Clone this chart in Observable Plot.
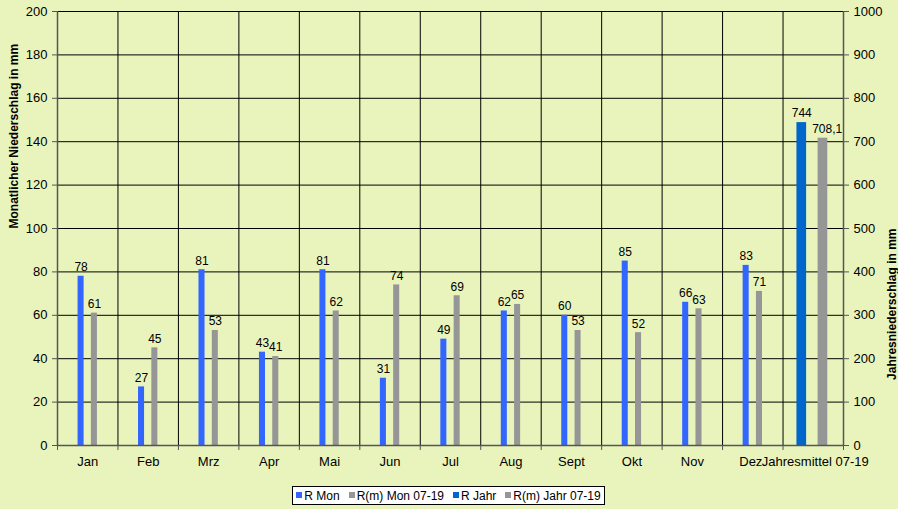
<!DOCTYPE html>
<html><head><meta charset="utf-8">
<script src="https://cdn.jsdelivr.net/npm/d3@7"></script>
<script src="https://cdn.jsdelivr.net/npm/@observablehq/plot@0.6"></script>
<style>
html,body{margin:0;padding:0;background:#E9F4BC;}
#chart{position:relative;width:898px;height:509px;overflow:hidden;font-family:"Liberation Sans",Arial,sans-serif;}
#legend{position:absolute;left:292px;top:486px;width:313px;height:19px;background:#fff;border:1px solid #000;box-sizing:border-box;display:flex;align-items:center;justify-content:center;gap:9px;font-size:12px;color:#000;}
#legend span.sw{display:inline-block;width:6px;height:6px;margin-right:2px;vertical-align:2px;}
</style></head>
<body><div id="chart"><div id="plot"></div><div id="legend"></div></div>
<script>
const months = ["Jan","Feb","Mrz","Apr","Mai","Jun","Jul","Aug","Sept","Okt","Nov","Dez"];
const annualLabel = "Jahresmittel 07-19";
const rMon = [78,27,81,43,81,31,49,62,60,85,66,83];
const rMeanMon = [61,45,53,41,62,74,69,65,53,52,63,71];
const rJahr = 744;
const rMeanJahr = 708.1;
const seriesNames = ["R Mon","R(m) Mon 07-19","R Jahr","R(m) Jahr 07-19"];
const colors = ["#3366FF","#969696","#0066CC","#969696"];

const cats = [...months, annualLabel];
const monthly = months.flatMap((m,i)=>[
  {i, s:0, v:rMon[i], label:String(rMon[i])},
  {i, s:1, v:rMeanMon[i], label:String(rMeanMon[i])}
]);
const annual = [
  {i:12, s:2, v:rJahr/5, label:String(rJahr)},
  {i:12, s:3, v:rMeanJahr/5, label:String(rMeanJahr).replace(".",",")}
];
const off = {0:[0.34,0.44],1:[0.56,0.66],2:[0.23,0.39],3:[0.58,0.74]};
const all = [...monthly, ...annual];

const plot = Plot.plot({
  width: 898, height: 478,
  marginLeft: 57, marginRight: 55, marginTop: 11, marginBottom: 33,
  style: {background:"transparent", fontFamily:"Liberation Sans, Arial, sans-serif", fontSize:"12px", color:"#000"},
  x: {domain:[0,13], axis:null},
  y: {domain:[0,200], axis:null},
  marks: [
    Plot.ruleY(d3.range(20,201,20), {stroke:"#000", strokeWidth:1}),
    Plot.ruleX(d3.range(1,13), {stroke:"#000", strokeWidth:1}),
    Plot.rectY(all, {x1:d=>d.i+off[d.s][0], x2:d=>d.i+off[d.s][1], y1:0, y2:"v", fill:d=>colors[d.s], inset:0}),
    Plot.text(monthly, {x:d=>d.i+(off[d.s][0]+off[d.s][1])/2, y:"v", text:"label", dy:-9, fontSize:12, fill:"#000"}),
    Plot.text(annual, {x:d=>d.i+(off[d.s][0]+off[d.s][1])/2 + (d.s===3?0.07:0), y:"v", text:"label", dy:-9, fontSize:12, fill:"#000"}),
    Plot.ruleX([0,13], {stroke:"#555", strokeWidth:1.5}),
    Plot.ruleY([0], {stroke:"#555", strokeWidth:1.5}),
    Plot.axisY(d3.range(0,201,20), {anchor:"left", tickSize:5, tickPadding:5, fontSize:13, stroke:"#555", tickFormat:d=>String(d), label:null}),
    Plot.axisY(d3.range(0,201,20), {anchor:"right", tickSize:5, tickPadding:5, fontSize:13, stroke:"#555", tickFormat:d=>String(d*5), label:null}),
    Plot.axisX(d3.range(0,14), {tickSize:5, tickFormat:()=>"", stroke:"#555", label:null}),
    Plot.axisX(d3.range(0.5,11,1), {tickSize:0, tickPadding:11, fontSize:13, tickFormat:d=>cats[Math.floor(d)], label:null}),
    Plot.axisX([11.5], {tickSize:0, tickPadding:11, fontSize:13, dx:-2, tickFormat:d=>cats[Math.floor(d)], label:null}),
    Plot.axisX([12.5], {tickSize:0, tickPadding:11, fontSize:13, dx:2, tickFormat:d=>cats[Math.floor(d)], label:null}),
    Plot.text(["Monatlicher Niederschlag in mm"], {frameAnchor:"left", dx:-43, rotate:-90, fontWeight:"bold", fontSize:12}),
    Plot.text(["Jahresniederschlag in mm"], {frameAnchor:"right", dx:49, rotate:-90, fontWeight:"bold", fontSize:12})
  ]
});
document.getElementById("plot").appendChild(plot);
const lg = document.getElementById("legend");
seriesNames.forEach((n,k)=>{
  const e = document.createElement("span");
  e.innerHTML = `<span class="sw" style="background:${colors[k]}"></span>${n}`;
  lg.appendChild(e);
});
</script></body></html>
